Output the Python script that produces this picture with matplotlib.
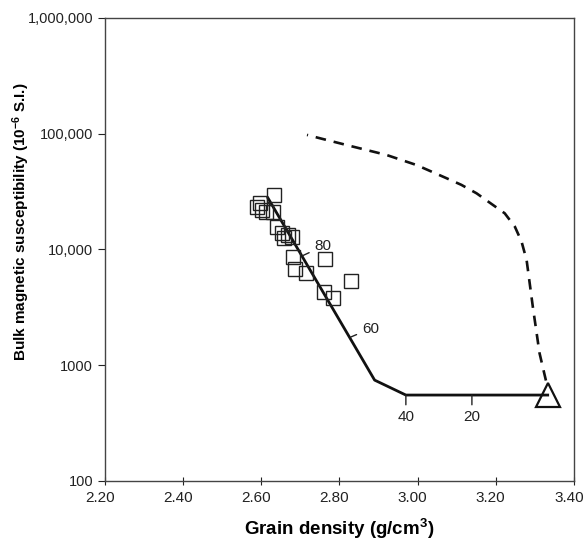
import matplotlib
matplotlib.use("Agg")
import matplotlib.pyplot as plt
import matplotlib.transforms as mtransforms

plt.rcParams['font.family'] = ['Liberation Sans', 'DejaVu Sans']
plt.rcParams['mathtext.fontset'] = 'custom'
plt.rcParams['mathtext.bf'] = 'Liberation Sans:bold'
plt.rcParams['mathtext.rm'] = 'Liberation Sans'
plt.rcParams['mathtext.default'] = 'bf'

# measured samples
sample_density = [2.632, 2.596, 2.589, 2.602, 2.612, 2.630, 2.640, 2.653, 2.658,
                  2.668, 2.678, 2.681, 2.686, 2.714, 2.763, 2.829, 2.760, 2.783]
sample_susc = [29500, 25200, 23200, 21900, 21000, 21200, 15600, 13900, 12550,
               13300, 12800, 8600, 6770, 6250, 8260, 5330, 4290, 3800]

# mixing line (solid)
mix_density = [2.617, 2.890, 2.970, 3.333]
mix_susc = [27800, 743, 552, 552]

# dashed curve
dash_density = [2.717, 2.750, 2.834, 2.920, 2.997, 3.074, 3.112, 3.151, 3.187,
                3.223, 3.249, 3.266, 3.279, 3.295, 3.312, 3.330]
dash_susc = [97500, 91200, 77300, 65500, 53600, 41200, 36100, 30500, 25000,
             20500, 15700, 11700, 8090, 3180, 1274, 700]

# end member
end_density = [3.333]
end_susc = [552]

# percentage marks along the solid line
pct_labels = ['80', '60', '40', '20']
pct_density = [2.704, 2.829, 2.970, 3.139]
pct_susc = [8770, 1750, 552, 552]

yticks = [100, 1000, 10000, 100000, 1000000]
ytick_labels = ['100', '1000', '10,000', '100,000', '1,000,000']
xticks = [2.2, 2.4, 2.6, 2.8, 3.0, 3.2, 3.4]
xtick_labels = ['2.20', '2.40', '2.60', '2.80', '3.00', '3.20', '3.40']

fig = plt.figure(figsize=(5.85, 5.41), dpi=100)
ax = fig.add_axes([0.1795, 0.111, 0.8015, 0.856])

ax.plot(dash_density, dash_susc, color='#111111', lw=1.9, linestyle=(3.6, (4, 3)))
ax.plot(mix_density, mix_susc, color='#111111', lw=2)
ax.plot(sample_density, sample_susc, linestyle='none', marker='s', markersize=9.5,
        markerfacecolor='none', markeredgecolor='#222222', markeredgewidth=1)
ax.plot(end_density, end_susc, linestyle='none', marker='^', markersize=17,
        markerfacecolor='none', markeredgecolor='#111111', markeredgewidth=1.6)

offsets = [(9, 7), (8, 6), (0, -11), (0, -11)]
for lab, x, y, off in zip(pct_labels, pct_density, pct_susc, offsets):
    if off[1] < 0:
        ha, va = 'center', 'top'
    else:
        ha, va = 'left', 'center'
    ax.annotate(lab, xy=(x, y), xytext=off, textcoords='offset points',
                ha=ha, va=va, fontsize=11, color='#222222',
                arrowprops=dict(arrowstyle='-', color='#222222', lw=1,
                                shrinkA=2, shrinkB=0))

ax.set_yscale('log')
ax.set_ylim(100, 1000000)
ax.set_xlim(2.2, 3.4)
ax.set_yticks(yticks)
ax.set_yticklabels(ytick_labels)
ax.minorticks_off()
ax.set_xticks(xticks)
ax.set_xticklabels(xtick_labels)
ax.tick_params(axis='x', labelsize=11, colors='#222222', direction='inout', length=6, pad=4)
ax.tick_params(axis='y', labelsize=10.5, colors='#222222', direction='out', length=5)

# x tick labels sit a little left of their ticks in the original
shift = mtransforms.ScaledTranslation(-5 / 100, 0, fig.dpi_scale_trans)
for lbl in ax.get_xticklabels():
    lbl.set_transform(lbl.get_transform() + shift)

for s in ax.spines.values():
    s.set_color('#444444')
    s.set_linewidth(1)

ax.set_xlabel('Grain density (g/cm$^{3}$)', fontsize=13.5, fontweight='bold', labelpad=9)
ax.set_ylabel('Bulk magnetic susceptibility (10$^{-6}$ S.I.)', fontsize=11,
              fontweight='bold')
ax.yaxis.set_label_coords(-0.155, 0.56)

fig.savefig('out.png', dpi=100)
